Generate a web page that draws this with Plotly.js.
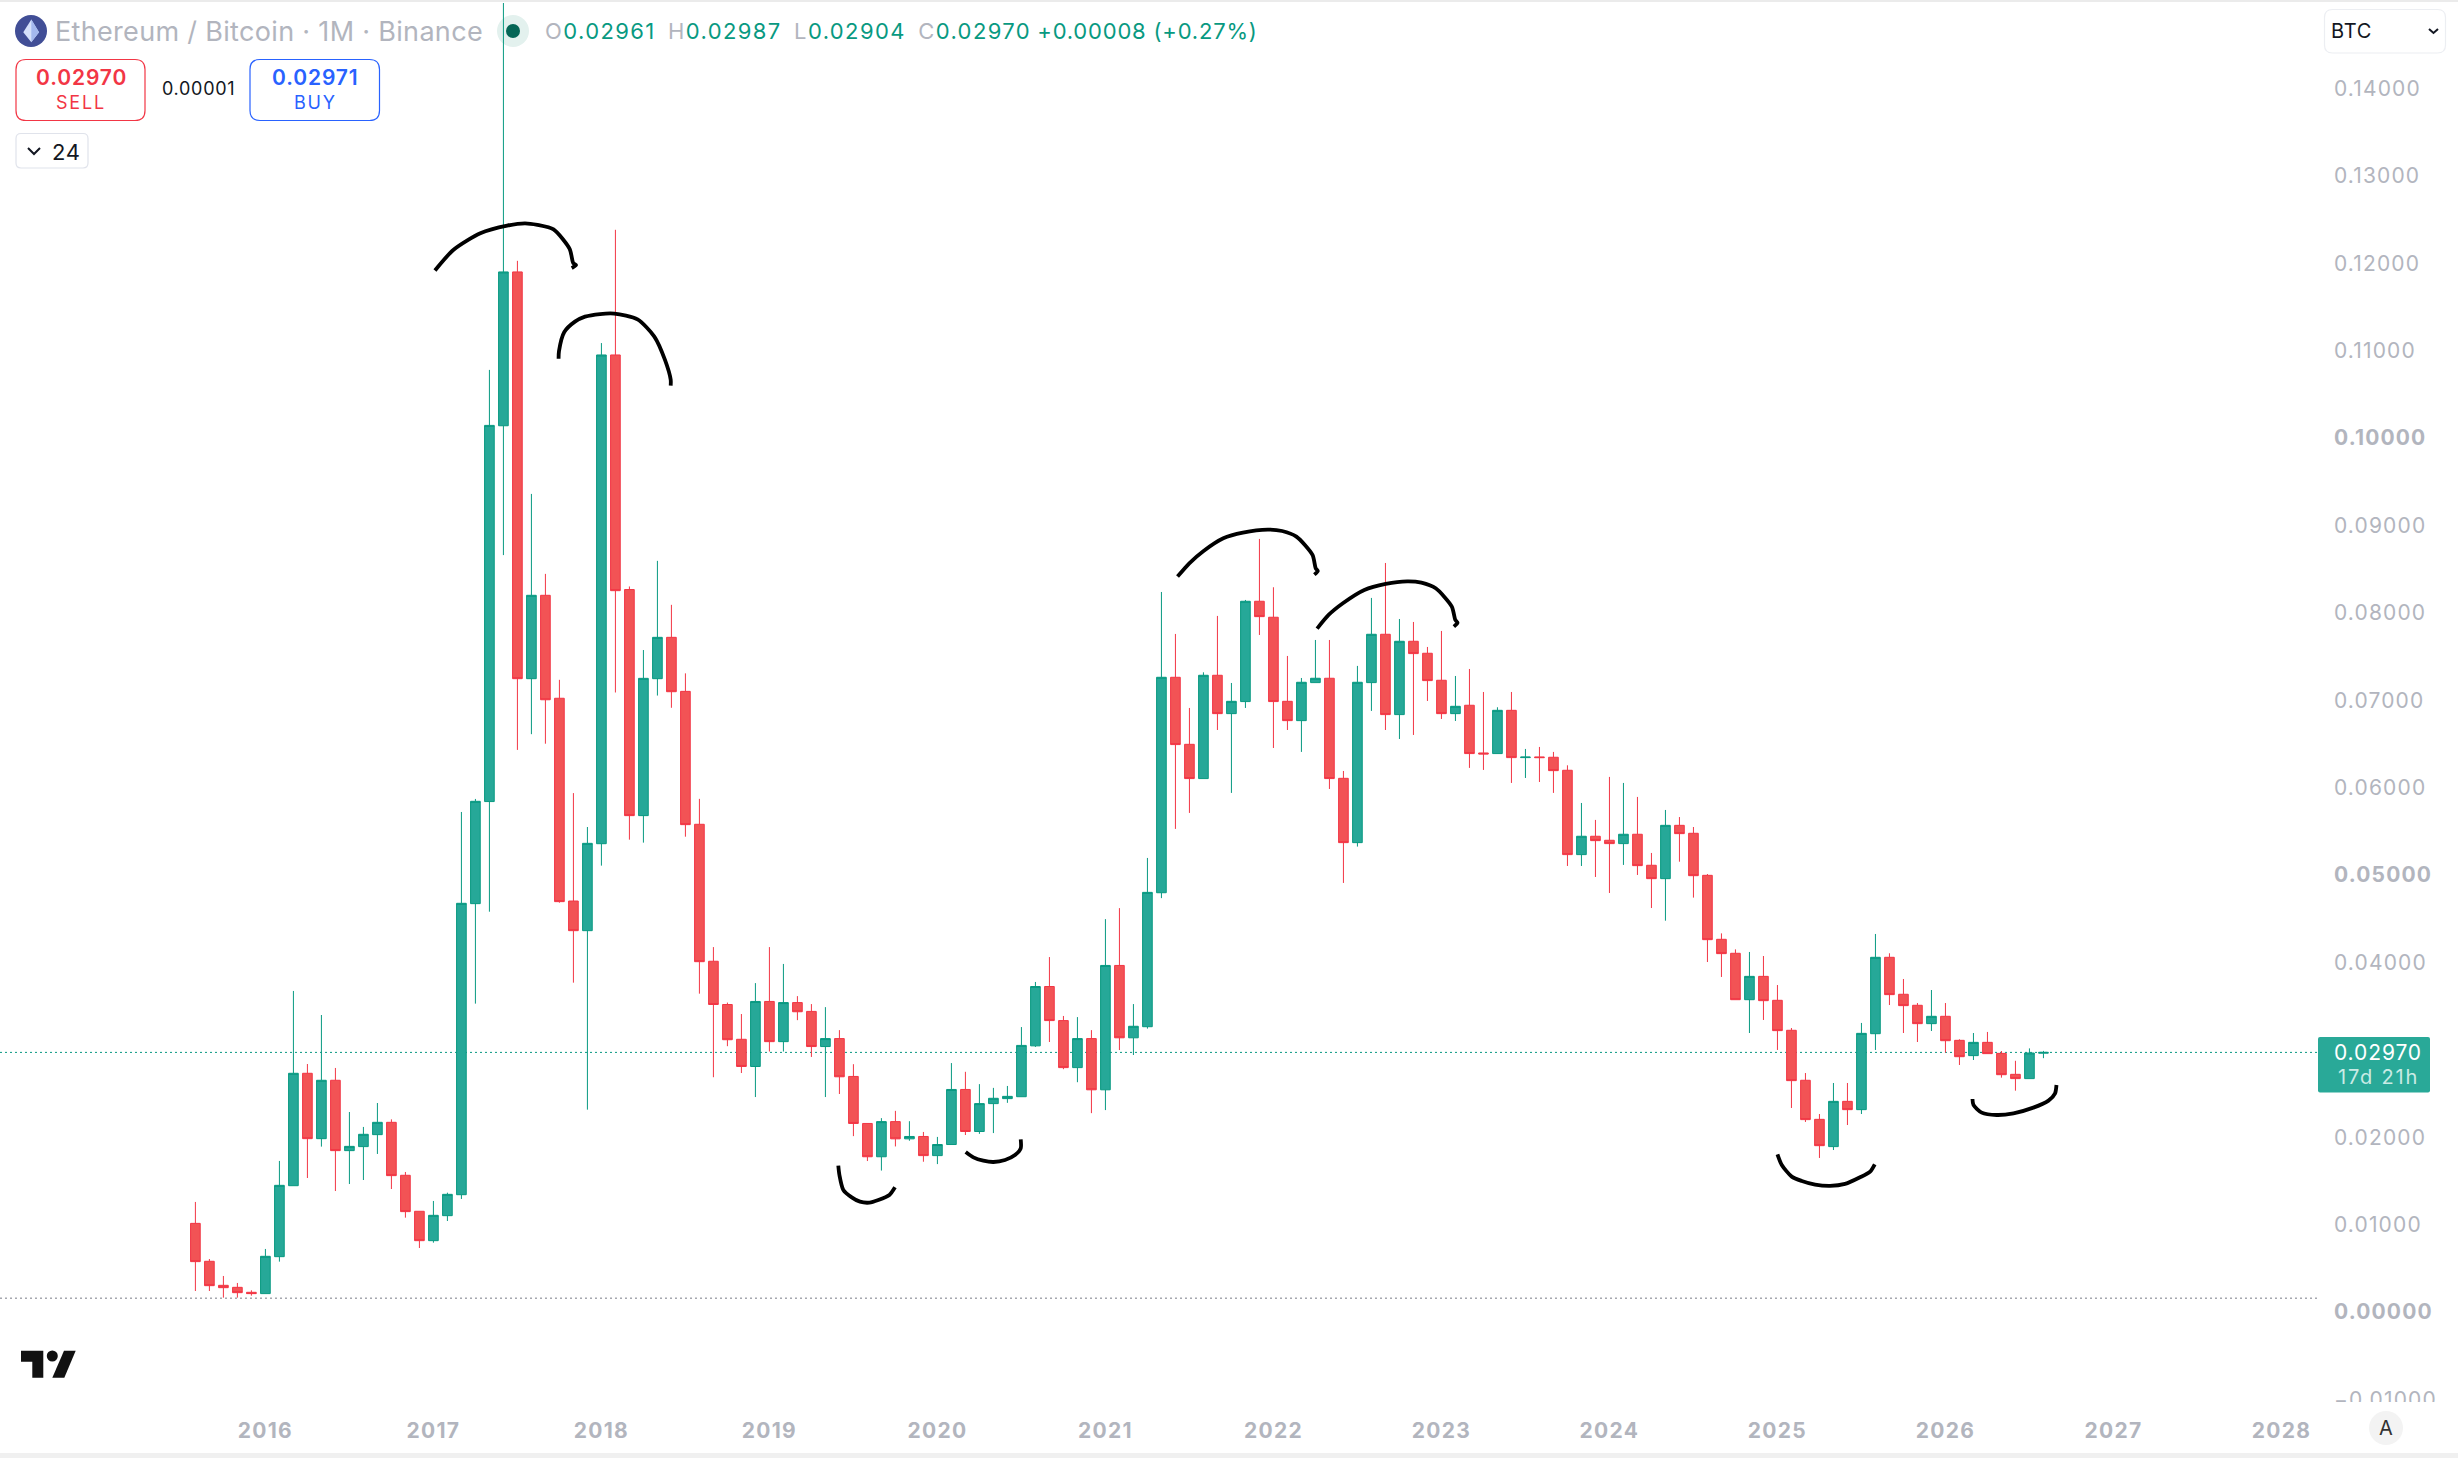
<!DOCTYPE html>
<html>
<head>
<meta charset="utf-8">
<script src="https://cdn.plot.ly/plotly-3.0.1.min.js"></script>
<style>
html,body{margin:0;padding:0;background:#fff;overflow:hidden}
#chart{width:2458px;height:1458px}
#chart .ytick text{letter-spacing:1.15px}
#chart .xtick text{letter-spacing:1.3px}
</style>
</head>
<body>
<div id="chart"></div>
<script>
// Monthly candles, first month = Aug 2015, last month = Aug 2026
const firstYear = 2015, firstMonth = 8;
const open = [
.01014,.00580,.00305,.00282,.00225,.00210,.00633,.01445,.02731,.01983,
.02651,.01846,.01892,.02029,.02170,.01564,.01152,.00816,.01102,.01342,
.04672,.05840,.10140,.11900,.07246,.08200,.07022,.04702,.04363,.05358,
.10950,.08266,.05679,.07246,.07719,.07101,.05580,.04013,.03518,.03120,
.02809,.03553,.03093,.03540,.03439,.03037,.03128,.02695,.02157,.01776,
.02178,.01981,.02008,.01789,.01916,.02546,.02065,.02384,.02441,.02463,
.03045,.03724,.03334,.02796,.03128,.02542,.03965,.03137,.03264,.04797,
.07262,.06495,.06103,.07285,.06846,.06984,.08132,.07949,.06987,.06766,
.07201,.07251,.06106,.05370,.07201,.07754,.06835,.07674,.07537,.07228,
.06846,.06942,.06396,.06389,.06884,.06343,.06351,.06347,.06198,.05233,
.05443,.05397,.05359,.05466,.05111,.04958,.05568,.05477,.04996,.04264,
.04104,.03573,.03840,.03566,.03223,.02651,.02204,.01892,.02410,.02315,
.03184,.04058,.03635,.03509,.03299,.03383,.03108,.02933,.03085,.02959,
.02719,.02670,.02961];
const high = [
.01259,.00606,.00412,.00332,.00248,.00721,.01728,.03673,.02837,.03398,
.02792,.02288,.02117,.02391,.02204,.01602,.01152,.01270,.01365,.05721,
.05870,.10779,.14980,.12027,.09360,.08445,.07233,.05937,.05549,.11086,
.12382,.08301,.07574,.08594,.08091,.07307,.05871,.04175,.03540,.03409,
.03763,.04175,.03982,.03614,.03523,.03488,.03225,.02835,.02157,.02218,
.02301,.02183,.02060,.02003,.02848,.02748,.02607,.02564,.02586,.03260,
.03776,.04061,.03387,.03374,.03225,.04495,.04621,.03523,.05195,.08238,
.07758,.06911,.07319,.07964,.07197,.08147,.08845,.08292,.07506,.07254,
.07689,.07689,.06190,.07392,.08170,.08570,.07929,.07895,.07609,.07792,
.07277,.07357,.07094,.06919,.07094,.06442,.06465,.06408,.06255,.05824,
.05630,.06122,.06053,.05893,.05252,.05744,.05663,.05549,.05011,.04332,
.04149,.04119,.04073,.03741,.03249,.02734,.02265,.02620,.02620,.03307,
.04325,.04104,.03810,.03535,.03684,.03535,.03120,.03192,.03204,.02986,
.02874,.03016,.02987];
const low = [
.00240,.00240,.00164,.00164,.00187,.00210,.00576,.01445,.01533,.01892,
.01384,.01464,.01510,.01808,.01407,.01079,.00732,.00793,.01041,.01293,
.03528,.04580,.08660,.06431,.06611,.06502,.04683,.03768,.02315,.05107,
.07088,.05404,.05370,.07053,.06913,.05438,.03642,.02686,.03041,.02734,
.02459,.02980,.02980,.03339,.02918,.02459,.02494,.02012,.01727,.01618,
.01894,.01959,.01719,.01692,.01916,.02025,.02038,.02047,.02393,.02463,
.03032,.03089,.02778,.02629,.02275,.02310,.02997,.02940,.03242,.04735,
.05527,.05710,.06103,.06659,.05939,.06911,.07746,.06453,.06659,.06408,
.07201,.05984,.04909,.05325,.06877,.06659,.06556,.06602,.06991,.06785,
.06762,.06225,.06202,.06389,.06053,.06110,.06064,.05939,.05103,.05103,
.04977,.04794,.05115,.05000,.04622,.04477,.05152,.04741,.04004,.03833,
.03573,.03192,.03341,.02998,.02334,.02174,.01762,.01853,.02139,.02265,
.02998,.03512,.03192,.03089,.03215,.02967,.02826,.02883,.02956,.02681,
.02532,.02670,.02904];
const close = [
.00576,.00301,.00278,.00221,.00210,.00637,.01449,.02731,.01983,.02651,
.01846,.01895,.02033,.02170,.01560,.01148,.00816,.01106,.01346,.04676,
.05843,.10144,.11900,.07246,.08200,.07005,.04695,.04363,.05362,.10950,
.08253,.05679,.07250,.07719,.07097,.05576,.04008,.03518,.03115,.02809,
.03553,.03093,.03540,.03435,.03037,.03128,.02691,.02157,.01776,.02178,
.01981,.02008,.01789,.01916,.02546,.02065,.02384,.02445,.02467,.03050,
.03724,.03334,.02796,.03128,.02542,.03965,.03137,.03269,.04801,.07262,
.06492,.06103,.07285,.06846,.06987,.08132,.07956,.06984,.06766,.07205,
.07251,.06103,.05370,.07205,.07754,.06835,.07674,.07533,.07224,.06846,
.06930,.06389,.06385,.06884,.06343,.06349,.06343,.06194,.05233,.05443,
.05393,.05359,.05466,.05107,.04958,.05568,.05473,.04992,.04260,.04100,
.03573,.03840,.03562,.03219,.02647,.02201,.01903,.02410,.02315,.03188,
.04058,.03631,.03505,.03299,.03383,.03104,.02921,.03085,.02956,.02715,
.02670,.02963,.02970];

// Axis labels (x positions are months since the first candle)
const yearTickMonths = [5,17,29,41,53,65,77,89,101,113,125,137,149];
const yearTickLabels = ['2016','2017','2018','2019','2020','2021','2022','2023','2024','2025','2026','2027','2028'];
const priceTicks = [-0.01,0,0.01,0.02,0.04,0.05,0.06,0.07,0.08,0.09,0.10,0.11,0.12,0.13,0.14];
const priceTickLabels = ['\u22120.01000','<b>0.00000</b>','0.01000','0.02000','0.04000','<b>0.05000</b>','0.06000','0.07000','0.08000','0.09000','<b>0.10000</b>','0.11000','0.12000','0.13000','0.14000'];
const lastPrice = 0.02970, baseLine = 0.00158;

// Hand-drawn arcs: month position and price
const arc1x = [17.11,18.44,20.35,22.27,23.54,24.43,25.58,26.73,26.99,27.19,26.88];
const arc1y = [.11917,.12154,.12342,.12430,.12456,.12438,.12386,.12163,.12001,.11979,.11944];
const arc2x = [25.94,25.97,26.35,27.11,27.83,28.90,29.92,31.58,32.78,33.54,33.95,33.95];
const arc2y = [.10906,.10994,.11212,.11331,.11388,.11418,.11423,.11357,.11160,.10893,.10665,.10600];
const arc3x = [70.15,70.99,72.01,73.42,74.82,76.60,77.62,78.64,79.79,80.02,80.17,79.92];
const arc3y = [.08414,.08566,.08707,.08852,.08917,.08952,.08936,.08871,.08662,.08509,.08479,.08437];
const arc4x = [80.12,80.94,81.96,83.49,85.02,86.55,87.57,88.59,89.74,89.99,90.15,89.89];
const arc4y = [.07819,.07975,.08109,.08261,.08330,.08360,.08345,.08280,.08071,.07918,.07887,.07842];
const arc5x = [45.92,46.00,46.28,46.88,47.47,48.14,48.78,49.57,49.97];
const arc5y = [.01674,.01567,.01396,.01312,.01262,.01251,.01281,.01338,.01426];
const arc6x = [55.02,55.57,56.28,57.00,57.83,58.54,58.95,58.95];
const arc6y = [.01830,.01769,.01731,.01716,.01739,.01796,.01872,.01975];
const arc7x = [113.00,113.31,114.02,114.74,115.69,116.76,117.83,118.90,119.62,119.95];
const arc7y = [.01804,.01682,.01549,.01499,.01457,.01442,.01465,.01541,.01606,.01690];
const arc8x = [126.93,127.00,127.59,128.66,129.86,131.28,132.36,132.83,132.93];
const arc8y = [.02437,.02369,.02281,.02254,.02273,.02338,.02418,.02502,.02597];

// Page geometry
const W = 2458, H = 1458;
const plotL = 0, plotR = 2318, plotT = 3, plotB = 1402;
const FONT = 'Inter, "Noto Sans", sans-serif';
const GREY = '#b2b5be', UP = '#089981', DOWN = '#f23645', BLUE = '#2962ff', INK = '#131722';
const px = x => x / W, py = y => 1 - y / H;
const P = (x, y) => `${px(x)},${py(y)}`;

function rr(x0, y0, x1, y1, r) {
  return `M${P(x0 + r, y0)} L${P(x1 - r, y0)} Q${P(x1, y0)} ${P(x1, y0 + r)} L${P(x1, y1 - r)} Q${P(x1, y1)} ${P(x1 - r, y1)} L${P(x0 + r, y1)} Q${P(x0, y1)} ${P(x0, y1 - r)} L${P(x0, y0 + r)} Q${P(x0, y0)} ${P(x0 + r, y0)} Z`;
}
function poly(pts, closed) {
  return 'M' + pts.map(p => P(p[0], p[1])).join(' L') + (closed ? ' Z' : '');
}
const pathShape = (path, fill, line, lw, layer) => ({type:'path', xref:'paper', yref:'paper', path, fillcolor: fill, line:{color: line || 'rgba(0,0,0,0)', width: lw || 0}, layer: layer || 'above'});
const rectShape = (x0, y0, x1, y1, fill) => ({type:'rect', xref:'paper', yref:'paper', x0:px(x0), x1:px(x1), y0:py(y0), y1:py(y1), fillcolor:fill, line:{width:0}, layer:'above'});
const circleShape = (cx, cy, r, fill, layer) => ({type:'circle', xref:'paper', yref:'paper', x0:px(cx-r), x1:px(cx+r), y0:py(cy-r), y1:py(cy+r), fillcolor:fill, line:{width:0}, layer: layer || 'above'});
const NONE = 'rgba(0,0,0,0)';

const spaced = (text, s) => `<span style="letter-spacing:${s}px">${text}</span>`;
const label = (text, x, y, size, color, anchor, weight) => ({
  text, xref:'paper', yref:'paper', x:px(x), y:py(y), xanchor: anchor || 'center', yanchor:'middle',
  showarrow:false, align: anchor || 'center', font:{family:FONT, size, color, weight: weight || 400}, borderpad:0
});

const shapes = [
  // price lines
  {type:'line', xref:'paper', yref:'y', x0:px(plotL), x1:px(plotR), y0:lastPrice, y1:lastPrice, line:{color:UP, width:1, dash:'2px,3px'}, layer:'below'},
  {type:'line', xref:'paper', yref:'y', x0:px(plotL), x1:px(plotR), y0:baseLine, y1:baseLine, line:{color:'#787b86', width:1, dash:'2px,3px'}, layer:'below'},
  // page edges, clipped bottom price label
  rectShape(0, 0, W, 2, '#ebebeb'),
  rectShape(0, 1453, W, H, '#f0f0f0'),
  rectShape(plotR, plotB, W, 1410, '#ffffff'),
  // coin logo
  circleShape(31, 31, 16, '#414e96'),
  pathShape(poly([[31.3,19.5],[39,32.3],[31.3,42.3],[23.3,32.3]], true), '#d5e0fa'),
  pathShape(poly([[31.3,19.5],[39,32.3],[31.3,42.3]], true), '#a4b8ee'),
  // market status dot
  circleShape(513, 31, 16, '#e3f1ee', 'below'),
  circleShape(513, 31, 7, '#056656'),
  // sell / buy / quantity / currency chips
  pathShape(rr(16, 59.5, 145, 120.5, 10), '#ffffff', DOWN, 1.2),
  pathShape(rr(250, 59.5, 379.5, 120.5, 10), '#ffffff', BLUE, 1.2),
  pathShape(rr(16, 133.5, 88, 168, 5), '#ffffff', '#e0e3eb', 1.2),
  pathShape(poly([[28,148],[34,154],[40,148]]), NONE, INK, 2),
  pathShape(rr(2324.5, 9.5, 2445.5, 53, 8), '#ffffff', '#eceef2', 1.2),
  pathShape(poly([[2429,29],[2433.5,33],[2438,29]]), NONE, INK, 2),
  // last price tag
  pathShape(rr(2318, 1037, 2430, 1092.5, 2), '#29a998'),
  // auto-scale button
  circleShape(2386, 1428, 17, '#f3f3f3'),
  // TradingView mark
  pathShape(poly([[21,1350.7],[43.3,1350.7],[43.3,1377.7],[32.3,1377.7],[32.3,1361.7],[21,1361.7]], true), '#111111'),
  circleShape(52.3, 1356, 5.5, '#111111'),
  pathShape(poly([[64,1350.7],[75.7,1350.7],[64.3,1377.7],[52.3,1377.7]], true), '#111111')
];

const g = s => `<span style="color:${GREY};letter-spacing:1.4px">${s}</span>`;
const v = s => spaced(s, 1.4);
const annotations = [
  label(spaced('Ethereum / Bitcoin \u00b7 1M \u00b7 Binance', 0.32), 54, 32, 27, GREY, 'left'),
  label(`${g('O')}${v('0.02961')}\u00a0 ${g('H')}${v('0.02987')}\u00a0 ${g('L')}${v('0.02904')}\u00a0 ${g('C')}${v('0.02970')}\u00a0${spaced('+0.00008 (+0.27%)', 0.8)}`, 544, 31, 22, UP, 'left'),
  label(spaced('0.02970', 0.9), 81, 78, 21, DOWN, 'center', 600),
  label(spaced('SELL', 1.8), 81, 103, 18, DOWN),
  label(spaced('0.00001', 0.7), 198, 89, 18, INK),
  label(spaced('0.02971', 0.9), 315, 78, 21, BLUE, 'center', 600),
  label(spaced('BUY', 1.8), 315, 103, 18, BLUE),
  label(spaced('24', 0.8), 66, 152, 22, INK),
  label(spaced('BTC', 0.8), 2330, 31, 20, INK, 'left'),
  label(spaced('0.02970', 0.9), 2378, 1052, 21, '#ffffff'),
  label(spaced('17d 21h', 1.8), 2378, 1077, 20, '#c9ebe5'),
  label('A', 2386, 1428, 20, '#333333')
];

const months = open.map((_, i) => i);
const candles = {
  type:'candlestick', x:months, open, high, low, close, whiskerwidth:0, hoverinfo:'skip',
  increasing:{line:{color:UP, width:1}, fillcolor:'#26a898'},
  decreasing:{line:{color:DOWN, width:1}, fillcolor:'#f25355'}
};
const arc = (x, y) => ({type:'scatter', mode:'lines', x, y, hoverinfo:'skip',
  line:{color:'#000000', width:3.8, shape:'spline', smoothing:0.7}});

const data = [candles, arc(arc1x,arc1y), arc(arc2x,arc2y), arc(arc3x,arc3y), arc(arc4x,arc4y),
              arc(arc5x,arc5y), arc(arc6x,arc6y), arc(arc7x,arc7y), arc(arc8x,arc8y)];

const layout = {
  width:W, height:H, margin:{l:0,r:0,t:0,b:0,pad:0}, showlegend:false,
  paper_bgcolor:'#ffffff', plot_bgcolor:'rgba(0,0,0,0)', dragmode:false, hovermode:false,
  boxgap:0.31, boxgroupgap:0,
  font:{family:FONT},
  xaxis:{type:'linear', domain:[px(plotL), px(plotR)], range:[-13.957, 151.61], rangeslider:{visible:false},
    tickmode:'array', tickvals:yearTickMonths, ticktext:yearTickLabels, ticks:'', showgrid:false, zeroline:false, showline:false,
    tickfont:{family:FONT, size:21, color:GREY, weight:700}, ticklabelstandoff:14, tickangle:0, fixedrange:true},
  yaxis:{type:'linear', domain:[py(plotB), py(plotT)], range:[-0.0103, 0.14977], side:'right', anchor:'x',
    tickmode:'array', tickvals:priceTicks, ticktext:priceTickLabels, ticks:'', showgrid:false, zeroline:false, showline:false,
    tickfont:{family:FONT, size:21, color:GREY}, ticklabelstandoff:15, fixedrange:true},
  shapes, annotations
};
Plotly.newPlot('chart', data, layout, {displayModeBar:false, staticPlot:true});
</script>
</body>
</html>
